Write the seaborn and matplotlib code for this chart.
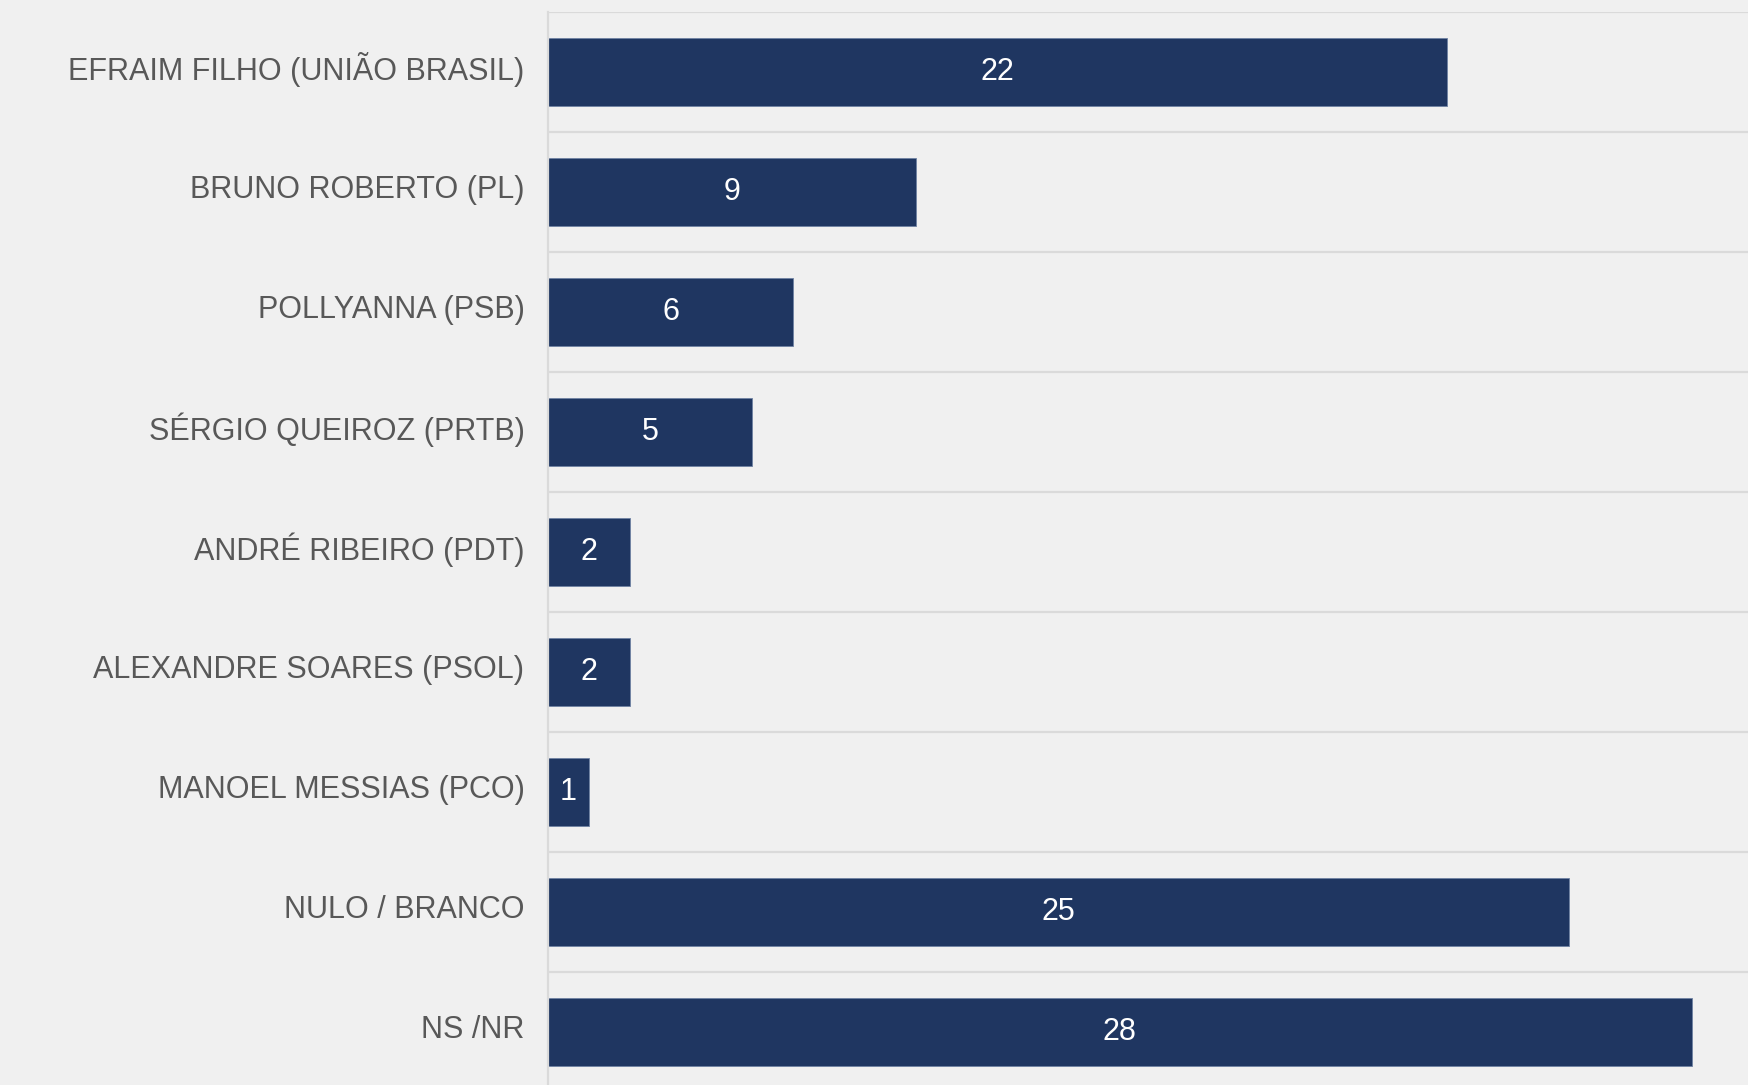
import numpy as np
import pandas as pd
import seaborn as sns
import matplotlib.pyplot as plt
import matplotlib.transforms as mtrans

candidates = [
    "EFRAIM FILHO (UNIÃO BRASIL)",
    "BRUNO ROBERTO (PL)",
    "POLLYANNA (PSB)",
    "SÉRGIO QUEIROZ (PRTB)",
    "ANDRÉ RIBEIRO (PDT)",
    "ALEXANDRE SOARES (PSOL)",
    "MANOEL MESSIAS (PCO)",
    "NULO / BRANCO",
    "NS /NR",
]
votes = [22, 9, 6, 5, 2, 2, 1, 25, 28]

BAR_COLOR = "#1f3661"
BG = "#f0f0f0"
GRID = "#dadada"


def main():
    sns.set_theme(style="white")
    plt.rcParams["font.family"] = ["Liberation Sans", "DejaVu Sans"]

    df = pd.DataFrame({"candidate": candidates, "votes": votes})

    fig = plt.figure(figsize=(17.49, 10.85), dpi=100, facecolor=BG)
    ax = fig.add_axes([548 / 1749, -7 / 1085, 1201 / 1749, 1080 / 1085])
    ax.set_facecolor(BG)

    sns.barplot(
        x="votes",
        y="candidate",
        data=df,
        orient="h",
        color=BAR_COLOR,
        saturation=1,
        width=0.56,
        edgecolor="#6f82a3",
        linewidth=0.6,
        ax=ax,
    )

    vals = ax.bar_label(ax.containers[0], label_type="center", color="white",
                        fontsize=22)
    up = mtrans.ScaledTranslation(0, 1.5 / 72, fig.dpi_scale_trans)
    for t in vals:
        t.set_transform(t.get_transform() + up)

    ax.set_xlim(0, 29.4)
    ax.set_ylim(8.5, -0.5)
    ax.set_xlabel("")
    ax.set_ylabel("")
    ax.set_xticks([])

    # separators between categories
    ax.set_yticks(np.arange(-0.5, len(candidates)), minor=True)
    ax.grid(which="minor", axis="y", color=GRID, linewidth=1.6)
    ax.set_axisbelow(True)
    ax.tick_params(axis="y", which="both", length=0, pad=17,
                   labelsize=22, labelcolor="#585858")

    shift = mtrans.ScaledTranslation(0, 4 / 72, fig.dpi_scale_trans)
    for lab in ax.get_yticklabels():
        lab.set_transform(lab.get_transform() + shift)

    for side in ["top", "right", "bottom"]:
        ax.spines[side].set_visible(False)
    ax.spines["left"].set_color(GRID)
    ax.spines["left"].set_linewidth(1.6)

    fig.savefig("out.png", dpi=100, facecolor=BG)


if __name__ == "__main__":
    main()
